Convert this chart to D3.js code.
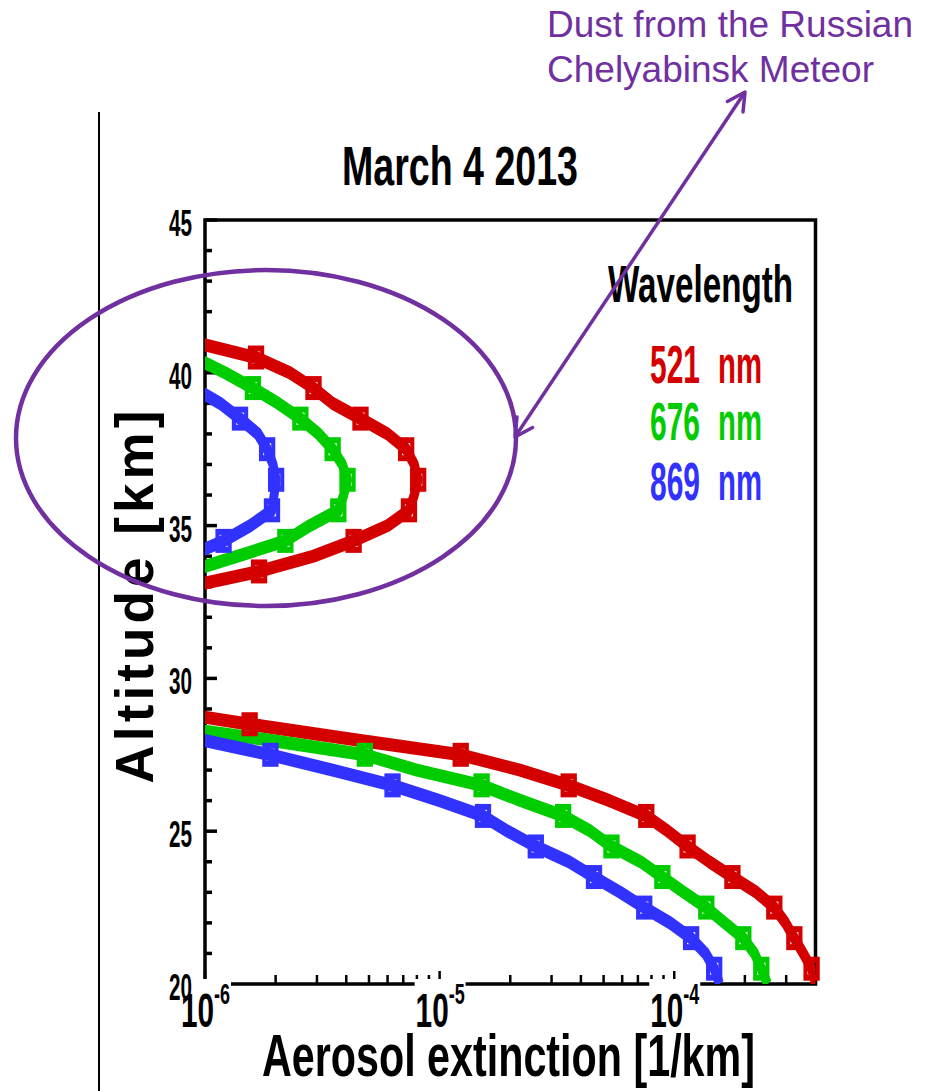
<!DOCTYPE html>
<html>
<head>
<meta charset="utf-8">
<script src="https://cdn.jsdelivr.net/npm/d3@7"></script>
<style>
body { margin: 0; background: #fff; }
svg { display: block; font-family: "Liberation Sans", Arial, Helvetica, sans-serif; }
</style>
</head>
<body>
<div id="chart"></div>
<script>
// altitude grids (km)
const altLow = [20, 20.5, 21, 21.5, 22, 22.5, 23, 23.5, 24, 24.5, 25, 25.5, 26, 26.5, 27, 27.5, 28, 28.5, 29];
const altUp = [33, 33.5, 34, 34.5, 35, 35.5, 36, 36.5, 37, 37.5, 38, 38.5, 39, 39.5, 40, 40.5, 41];

// aerosol extinction [1/km], null = below plot range
const ext521Low = [4.0e-4, 3.85e-4, 3.55e-4, 3.25e-4, 2.98e-4, 2.67e-4, 2.24e-4, 1.77e-4, 1.41e-4, 1.14e-4, 9.4e-5, 7.6e-5, 5.3e-5, 3.55e-5, 2.2e-5, 1.23e-5, 4.3e-6, 1.55e-6, 6e-7];
const ext676Low = [2.5e-4, 2.35e-4, 2.2e-4, 1.97e-4, 1.64e-4, 1.37e-4, 1.10e-4, 8.9e-5, 7.2e-5, 5.4e-5, 4.4e-5, 3.36e-5, 2.22e-5, 1.51e-5, 8.0e-6, 4.8e-6, 1.8e-6, 6e-7, null];
const ext869Low = [1.56e-4, 1.48e-4, 1.36e-4, 1.18e-4, 9.6e-5, 7.45e-5, 5.88e-5, 4.55e-5, 3.56e-5, 2.57e-5, 1.95e-5, 1.53e-5, 1.0e-5, 6.3e-6, 3.5e-6, 1.9e-6, 9.5e-7, null, null];

const ext521Up = [8.5e-7, 1.7e-6, 2.9e-6, 4.3e-6, 6.0e-6, 7.4e-6, 7.8e-6, 8.1e-6, 7.8e-6, 7.2e-6, 6.0e-6, 4.6e-6, 3.5e-6, 2.9e-6, 2.3e-6, 1.65e-6, 9e-7];
const ext676Up = [null, 8.5e-7, 1.38e-6, 2.2e-6, 2.8e-6, 3.7e-6, 3.9e-6, 4.05e-6, 3.85e-6, 3.5e-6, 3.05e-6, 2.55e-6, 2.05e-6, 1.6e-6, 1.22e-6, 9e-7, null];
const ext869Up = [null, null, 8.5e-7, 1.2e-6, 1.56e-6, 1.93e-6, 1.97e-6, 2.01e-6, 1.95e-6, 1.84e-6, 1.68e-6, 1.41e-6, 1.16e-6, 9e-7, null, null, null];

const wavelengths = ["521 nm", "676 nm", "869 nm"];
const colors = ["#d40000", "#00cc00", "#3232ff"];

const xDomain = [1e-6, 4e-4];
const yDomain = [20, 45];
const yLabelTicks = [20, 25, 30, 35, 40, 45];
const xLabelExps = [-6, -5, -4];

const series = [
    { name: wavelengths[0], color: colors[0], low: ext521Low, up: ext521Up },
    { name: wavelengths[1], color: colors[1], low: ext676Low, up: ext676Up },
    { name: wavelengths[2], color: colors[2], low: ext869Low, up: ext869Up }
];

const W = 934, H = 1091;
const plot = { left: 205, right: 815.5, top: 220, bottom: 984 };
const SX = 0.68; // the original graphic is squeezed horizontally

const svg = d3.select("#chart").append("svg")
    .attr("width", W)
    .attr("height", H);

const x = d3.scaleLog().domain(xDomain).range([plot.left, plot.right]);
const y = d3.scaleLinear().domain(yDomain).range([plot.bottom, plot.top]);

function fit(sel, len) {
    return sel.attr("textLength", len).attr("lengthAdjust", "spacingAndGlyphs");
}

// slide edge line
svg.append("line")
    .attr("x1", 99).attr("x2", 99).attr("y1", 112).attr("y2", H)
    .attr("stroke", "#000").attr("stroke-width", 2);

// frame
svg.append("rect")
    .attr("x", plot.left).attr("y", plot.top)
    .attr("width", plot.right - plot.left).attr("height", plot.bottom - plot.top)
    .attr("fill", "none").attr("stroke", "#000").attr("stroke-width", 3.5);

// y ticks
svg.append("g").selectAll("line")
    .data(y.ticks(25))
    .join("line")
    .attr("x1", plot.left)
    .attr("x2", d => plot.left + (d % 5 === 0 ? 12 : 7))
    .attr("y1", d => y(d)).attr("y2", d => y(d))
    .attr("stroke", "#000").attr("stroke-width", 3.5);

// x ticks
svg.append("g").selectAll("line")
    .data(x.ticks())
    .join("line")
    .attr("x1", d => x(d)).attr("x2", d => x(d))
    .attr("y1", plot.bottom)
    .attr("y2", d => plot.bottom - (Number.isInteger(Math.round(Math.log10(d) * 1000) / 1000) ? 13 : 9))
    .attr("stroke", "#000").attr("stroke-width", 2.5);

const xl = svg.append("g").selectAll("g")
    .data(xLabelExps)
    .join("g")
    .attr("transform", d => `translate(${x(Math.pow(10, d))},0)`);

xl.append("rect")
    .attr("x", -25).attr("y", 979)
    .attr("width", 51).attr("height", 50)
    .attr("fill", "#fff");

const xt = xl.append("text")
    .attr("x", -24).attr("y", 1027)
    .attr("font-weight", "bold")
    .call(fit, 49);
xt.append("tspan")
    .attr("font-size", 48)
    .text("10");
xt.append("tspan")
    .attr("font-size", 29)
    .attr("dy", -23)
    .text(d => "-" + Math.abs(d));

svg.append("g").selectAll("text")
    .data(yLabelTicks)
    .join("text")
    .attr("x", 192)
    .attr("y", d => y(d) + 16)
    .attr("text-anchor", "end")
    .attr("font-size", 36)
    .attr("font-weight", "bold")
    .text(d => d)
    .call(fit, 23);

// axis titles
svg.append("text")
    .attr("x", 262).attr("y", 1076)
    .attr("font-size", 60).attr("font-weight", "bold")
    .text("Aerosol extinction [1/km]")
    .call(fit, 493);

svg.append("text")
    .attr("transform", "translate(153,597) rotate(-90)")
    .attr("text-anchor", "middle")
    .attr("font-size", 53).attr("font-weight", "bold")
    .text("Altitude [km]")
    .attr("textLength", 373).attr("lengthAdjust", "spacing");

svg.append("text")
    .attr("x", 342).attr("y", 185)
    .attr("font-size", 56).attr("font-weight", "bold")
    .text("March 4 2013")
    .call(fit, 236);

// curves, drawn in squeezed space
svg.append("defs").append("clipPath")
    .attr("id", "plotClip")
    .append("rect")
    .attr("x", plot.left / SX).attr("y", plot.top)
    .attr("width", (plot.right - plot.left) / SX)
    .attr("height", plot.bottom - plot.top);

const curves = svg.append("g").attr("transform", `scale(${SX},1)`);
const clipped = curves.append("g").attr("clip-path", "url(#plotClip)");

const line = d3.line()
    .defined(d => d.ext != null)
    .x(d => x(d.ext) / SX)
    .y(d => y(d.alt));

series.forEach(s => {
    const parts = [
        altLow.map((a, i) => ({ alt: a, ext: s.low[i], i })),
        altUp.map((a, i) => ({ alt: a, ext: s.up[i], i }))
    ];
    parts.forEach(pts => {
        clipped.append("path")
            .datum(pts)
            .attr("d", line)
            .attr("fill", "none")
            .attr("stroke", s.color)
            .attr("stroke-width", 13)
            .attr("stroke-linejoin", "round");

        curves.append("g").selectAll("rect")
            .data(pts.filter(d => d.i % 2 === 1 && d.ext != null && d.ext > xDomain[0]))
            .join("rect")
            .attr("x", d => x(d.ext) / SX - 9)
            .attr("y", d => y(d.alt) - 9)
            .attr("width", 18).attr("height", 18)
            .attr("fill", "none")
            .attr("stroke", s.color)
            .attr("stroke-width", 6);
    });
});

// legend
svg.append("text")
    .attr("x", 608).attr("y", 302)
    .attr("font-size", 52).attr("font-weight", "bold")
    .text("Wavelength")
    .call(fit, 185);

const legendY = [383, 440, 500];
const leg = svg.append("g").selectAll("g")
    .data(series)
    .join("g")
    .attr("fill", d => d.color)
    .attr("font-size", 53).attr("font-weight", "bold");

leg.append("text")
    .attr("x", 650).attr("y", (d, i) => legendY[i])
    .text(d => d.name.split(" ")[0])
    .call(fit, 50);

leg.append("text")
    .attr("x", 718).attr("y", (d, i) => legendY[i])
    .text(d => d.name.split(" ")[1])
    .call(fit, 44);

// annotation
const purple = "#7030a0";
svg.append("ellipse")
    .attr("cx", 266).attr("cy", 438)
    .attr("rx", 250).attr("ry", 168)
    .attr("fill", "none").attr("stroke", purple).attr("stroke-width", 4.5);

const a0 = [515, 437], a1 = [745, 92];
svg.append("line")
    .attr("x1", a0[0]).attr("y1", a0[1]).attr("x2", a1[0]).attr("y2", a1[1])
    .attr("stroke", purple).attr("stroke-width", 3.5);

function head(tip, from) {
    const ang = Math.atan2(from[1] - tip[1], from[0] - tip[0]);
    const len = 20, spread = 28 * Math.PI / 180;
    const p1 = [tip[0] + len * Math.cos(ang - spread), tip[1] + len * Math.sin(ang - spread)];
    const p2 = [tip[0] + len * Math.cos(ang + spread), tip[1] + len * Math.sin(ang + spread)];
    svg.append("path")
        .attr("d", `M${p1}L${tip}L${p2}`)
        .attr("fill", "none").attr("stroke", purple)
        .attr("stroke-width", 3.5).attr("stroke-linecap", "round").attr("stroke-linejoin", "round");
}
head(a1, a0);
head(a0, a1);

svg.append("text")
    .attr("x", 547).attr("y", 37)
    .attr("font-size", 37).attr("fill", purple)
    .text("Dust from the Russian");

svg.append("text")
    .attr("x", 547).attr("y", 82)
    .attr("font-size", 37).attr("fill", purple)
    .text("Chelyabinsk Meteor");
</script>
</body>
</html>
